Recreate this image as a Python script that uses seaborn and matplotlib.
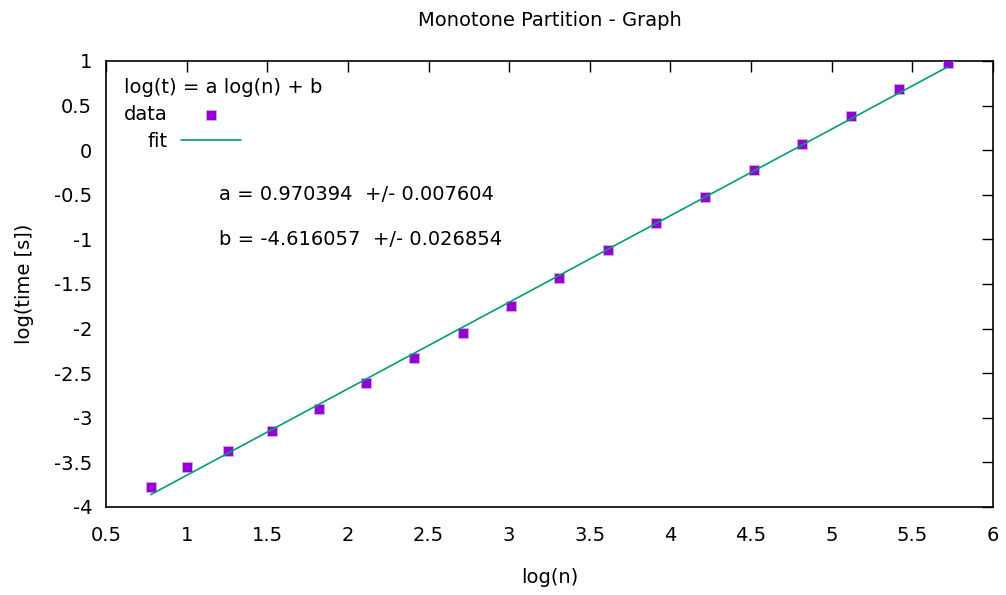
"""Monotone Partition - Graph: log-log runtime with a linear fit."""

import matplotlib as mpl

mpl.use("Agg")

import matplotlib.pyplot as plt
import numpy as np
import pandas as pd
import seaborn as sns

sns.set_theme(style="white", rc={"text.color": "black", "axes.labelcolor": "black",
                                 "xtick.color": "black", "ytick.color": "black"})
plt.rcParams["font.family"] = ["DejaVu Sans"]

# input sizes n = 2^k + 2
N_VALUES = [6, 10, 18, 34, 66, 130, 258, 514, 1026, 2050, 4098, 8194,
            16386, 32770, 65538, 131074, 262146, 524290]
LOG_TIME = [-3.772, -3.548, -3.369, -3.148, -2.899, -2.613, -2.326, -2.046,
            -1.747, -1.429, -1.119, -0.820, -0.521, -0.218, 0.073, 0.383,
            0.686, 0.978]

FIT_A, FIT_A_ERR = 0.970394, 0.007604
FIT_B, FIT_B_ERR = -4.616057, 0.026854

X_TICKS = [0.5, 1, 1.5, 2, 2.5, 3, 3.5, 4, 4.5, 5, 5.5, 6]
Y_TICKS = [1, 0.5, 0, -0.5, -1, -1.5, -2, -2.5, -3, -3.5, -4]

PURPLE = "#9400d3"
GREEN = "#009e73"
FS = 14

df = pd.DataFrame({"log_n": np.log10(N_VALUES), "log_t": LOG_TIME})
df["fit"] = FIT_A * df["log_n"] + FIT_B

fig = plt.figure(figsize=(10.06, 5.95), dpi=100)
ax = fig.add_axes([0.1054, 0.148, 0.8816, 0.7495])

sns.scatterplot(data=df, x="log_n", y="log_t", marker="s", s=60, color=PURPLE,
                edgecolor="#d9a6f0", linewidth=0.6, label="data", ax=ax, zorder=3)
sns.lineplot(data=df, x="log_n", y="fit", color=GREEN, linewidth=1.2,
             label="fit", ax=ax, zorder=4)

ax.set_xlim(0.5, 6)
ax.set_ylim(-4, 1)
ax.set_xticks(X_TICKS)
ax.set_yticks(Y_TICKS)
ax.set_xticklabels([f"{t:g}" for t in X_TICKS])
ax.set_yticklabels([f"{t:g}" for t in Y_TICKS])
ax.tick_params(direction="in", length=8, width=1, top=True, right=True,
               labelsize=FS)
ax.tick_params(axis="x", pad=14)
ax.tick_params(axis="y", pad=10)
for sp in ax.spines.values():
    sp.set_color("black")
    sp.set_linewidth(1.2)

ax.set_xlabel("log(n)", fontsize=FS, labelpad=16)
ax.set_ylabel("log(time [s])", fontsize=FS, labelpad=14)
ax.set_title("Monotone Partition - Graph", fontsize=FS, pad=25)

leg = ax.legend(title="log(t) = a log(n) + b", loc="upper left",
                bbox_to_anchor=(0.0, 1.0), frameon=False, markerfirst=False,
                fontsize=FS, title_fontsize=FS, handlelength=3.1,
                handletextpad=0.7, labelspacing=0.4, borderaxespad=0.5)
leg.set_alignment("left")

ax.text(1.2, -0.5, f"a = {FIT_A:.6f}  +/- {FIT_A_ERR:.6f}", fontsize=FS, va="center")
ax.text(1.2, -1.0, f"b = {FIT_B:.6f}  +/- {FIT_B_ERR:.6f}", fontsize=FS, va="center")

fig.savefig("out.png", dpi=100)
